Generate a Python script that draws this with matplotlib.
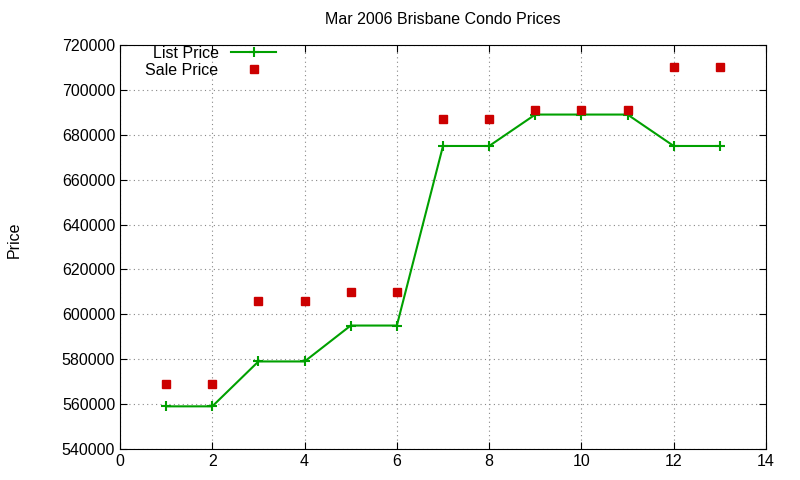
import matplotlib
matplotlib.use("Agg")
import matplotlib.pyplot as plt

x = list(range(1, 14))
list_price = [559000, 559000, 579000, 579000, 595000, 595000, 675000, 675000, 689000, 689000, 689000, 675000, 675000]
sale_price = [569000, 569000, 606000, 606000, 610000, 610000, 687000, 687000, 691000, 691000, 691000, 710000, 710000]

plt.rcParams['font.family'] = ['Liberation Sans', 'DejaVu Sans']
fig = plt.figure(figsize=(8, 4.8), dpi=100)
ax = fig.add_axes([0.15, 0.0646, 0.8075, 0.8417])
ax.plot(x, list_price, color='#00a000', lw=1.5, marker='+', ms=7, mew=1.5, label='List Price')
ax.plot(x, sale_price, ls='none', marker='s', color='#cc0000', ms=6, label='Sale Price')
ax.set_xlim(0, 14)
ax.set_ylim(540000, 720000)
ax.set_xticks(range(0, 15, 2))
ax.set_yticks(range(540000, 720001, 20000))
ax.grid(True, ls=(0, (1, 3)), color='#888888', lw=0.8)
ax.tick_params(direction='in', top=True, right=True, labelsize=11.5, length=5)
ax.set_title('Mar 2006 Brisbane Condo Prices', fontsize=11.5, pad=15)
fig.text(0.008, 0.5, 'Price', rotation=90, va='center', fontsize=11.5)
ax.legend(loc='upper left', frameon=False, markerfirst=False, fontsize=11.5,
          bbox_to_anchor=(0.022, 1.025), handlelength=2.8, labelspacing=0.1, borderaxespad=0.3)
for s in ax.spines.values():
    s.set_linewidth(0.8)
fig.savefig('out.png', dpi=100)
